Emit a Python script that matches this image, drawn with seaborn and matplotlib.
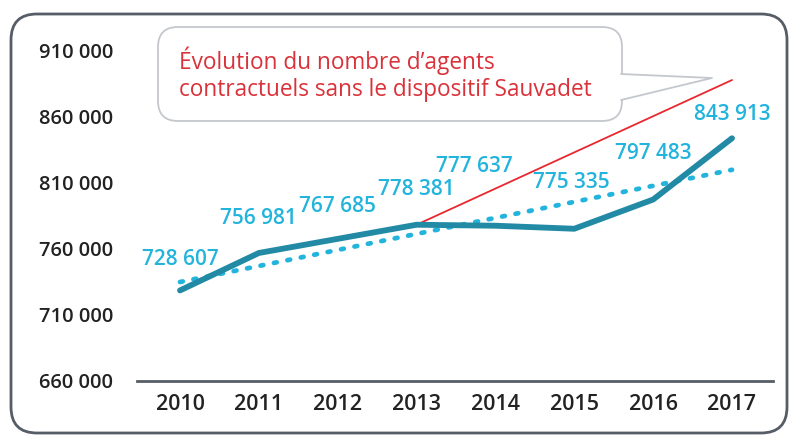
"""
Évolution du nombre d'agents contractuels, 2010-2017, with the linear trend
and the counterfactual line without the Sauvadet scheme.
"""
import matplotlib
matplotlib.use("Agg")
import matplotlib.pyplot as plt
import pandas as pd
import seaborn as sns
from matplotlib.patches import FancyBboxPatch, Polygon
from matplotlib.ticker import FuncFormatter

# Data
years = [2010, 2011, 2012, 2013, 2014, 2015, 2016, 2017]
agents = [728607, 756981, 767685, 778381, 777637, 775335, 797483, 843913]
trend_years = [2010, 2017]
trend_values = [735000, 820000]
sans_sauvadet_years = [2013, 2017]
sans_sauvadet_values = [778381, 888000]
y_ticks = [660000, 710000, 760000, 810000, 860000, 910000]
callout_text = "Évolution du nombre d’agents\ncontractuels sans le dispositif Sauvadet"

# label offsets (pixels, relative to each point)
label_offsets = [(0, 31), (0, 34), (0, 32), (0, 35), (-21, 59), (-3, 46), (0, 46), (0, 24)]

TEAL = "#238aa6"
CYAN = "#22b4dc"
RED = "#e8282f"
TEXT_RED = "#d9323a"
GREY = "#575d66"

sns.set_style("white")
plt.rcParams["font.family"] = ["Open Sans", "DejaVu Sans"]

W, H = 789, 436
fig = plt.figure(figsize=(W / 100, H / 100), dpi=100)

# overlay in pixel coordinates for frame and callout
over = fig.add_axes([0, 0, 1, 1], zorder=0)
over.set_xlim(0, W)
over.set_ylim(H, 0)
over.axis("off")
over.add_patch(FancyBboxPatch((11, 14), 776, 419, boxstyle="round,pad=0,rounding_size=26",
                              facecolor="white", edgecolor=GREY, linewidth=2))

# callout bubble
over.add_patch(FancyBboxPatch((158, 27), 464, 94, boxstyle="round,pad=0,rounding_size=20",
                              facecolor="white", edgecolor="#c4c7cc", linewidth=1.3, zorder=2))
over.add_patch(Polygon([(620, 74), (712, 78), (620, 100)], closed=True,
                       facecolor="white", edgecolor="none", zorder=3))
over.plot([621, 712, 621], [74, 78, 100], color="#c4c7cc", linewidth=1.3, zorder=4)
over.text(179, 74, callout_text, color=TEXT_RED, fontsize=16.3, va="center", ha="left",
          linespacing=1.15, zorder=5)

# main axes
x0, x1 = 137, 773
yr0_px, px_per_year = 180, (732 - 180) / 7
ax = fig.add_axes([x0 / W, 1 - 381 / H, (x1 - x0) / W, (381 - 37.8) / H], zorder=1)
ax.patch.set_alpha(0)

df = pd.DataFrame({"annee": years, "agents": agents})
trend = pd.DataFrame({"annee": trend_years, "agents": trend_values})
sauvadet = pd.DataFrame({"annee": sans_sauvadet_years, "agents": sans_sauvadet_values})

sns.lineplot(data=sauvadet, x="annee", y="agents", color=RED, linewidth=1.3, ax=ax)
sns.lineplot(data=trend, x="annee", y="agents", color=CYAN, linewidth=3.4,
             linestyle=(0, (0.6, 2.3)), dash_capstyle="round", ax=ax)
sns.lineplot(data=df, x="annee", y="agents", color=TEAL, linewidth=4.2,
             solid_capstyle="round", solid_joinstyle="round", ax=ax)

for (yr, val), (dx, dy) in zip(zip(years, agents), label_offsets):
    ax.annotate(f"{val:,}".replace(",", " "), (yr, val), xytext=(dx, dy),
                textcoords="offset pixels", ha="center", va="center",
                color=CYAN, fontsize=15, fontweight="semibold")

ax.set_xlim(2010 - (yr0_px - x0) / px_per_year, 2017 + (x1 - 732) / px_per_year)
ax.set_ylim(660000, 920000)
ax.set_xticks(years)
ax.set_yticks(y_ticks)
ax.yaxis.set_major_formatter(FuncFormatter(lambda v, p: f"{int(v):,}".replace(",", " ")))
ax.tick_params(axis="both", length=0, labelcolor="#222222")
ax.tick_params(axis="y", pad=17, labelsize=14.5)
ax.tick_params(axis="x", pad=9, labelsize=15.5)
for lbl in ax.get_xticklabels() + ax.get_yticklabels():
    lbl.set_fontweight("semibold")
ax.set_xlabel("")
ax.set_ylabel("")
sns.despine(ax=ax, left=True)
ax.spines["bottom"].set_color(GREY)
ax.spines["bottom"].set_linewidth(2)

fig.savefig("out.png", dpi=100)
